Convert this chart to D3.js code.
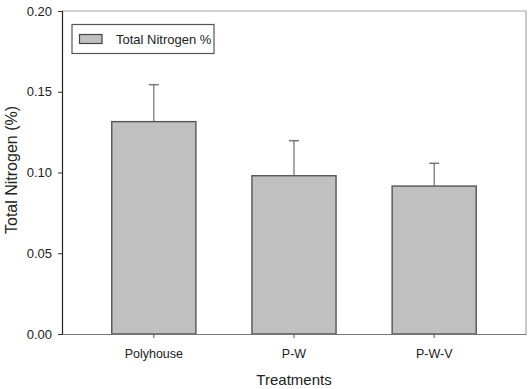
<!DOCTYPE html>
<html><head><meta charset="utf-8">
<script src="https://cdn.jsdelivr.net/npm/d3@7"></script>
<style>body{margin:0;background:#fff;} svg{display:block;} text{font-family:"Liberation Sans",Arial,sans-serif;fill:#222;}</style>
</head><body>
<svg id="chart" width="530" height="389"></svg>
<script>
const categories = ["Polyhouse", "P-W", "P-W-V"];
const values = [0.1315, 0.0980, 0.0916];
const errors = [0.0229, 0.0217, 0.0141];
const yTicks = [0.00, 0.05, 0.10, 0.15, 0.20];
const legendLabel = "Total Nitrogen %";

const svg = d3.select("#chart");
const L = 62, R = 526, T = 11, B = 334;

const x = d3.scaleBand().domain(categories).range([L, R]).paddingInner(0.4).paddingOuter(0.355);
const y = d3.scaleLinear().domain([0, 0.2]).range([B, T]);

// frame top/right
svg.append("path").attr("d", `M${L},${T}H${R}V${B}`).attr("fill","none").attr("stroke","#a8a8a8").attr("stroke-width",1.2);

// error bars
const g = svg.append("g");
categories.forEach((c,i)=>{
  const cx = x(c) + x.bandwidth()/2;
  g.append("line").attr("x1",cx).attr("x2",cx).attr("y1",y(values[i])).attr("y2",y(values[i]+errors[i]))
    .attr("stroke","#777").attr("stroke-width",1.3);
  g.append("line").attr("x1",cx-5).attr("x2",cx+5).attr("y1",y(values[i]+errors[i])).attr("y2",y(values[i]+errors[i]))
    .attr("stroke","#777").attr("stroke-width",1.5);
});
// bars
g.selectAll("rect").data(categories).enter().append("rect")
  .attr("x", d=>x(d)).attr("width", x.bandwidth())
  .attr("y", (d,i)=>y(values[i])).attr("height",(d,i)=>B - y(values[i]))
  .attr("fill","#c0c0c0").attr("stroke","#555").attr("stroke-width",1.4);

// y axis
const ya = svg.append("g").attr("transform",`translate(${L},0)`)
  .call(d3.axisLeft(y).tickValues(yTicks).tickFormat(d3.format(".2f")).tickSize(4).tickPadding(6));
ya.select(".domain").attr("stroke","#222").attr("stroke-width",1.2);
ya.selectAll(".tick line").attr("stroke","#333");
ya.selectAll("text").style("font-size","13px").attr("fill","#222");

// x axis
const xa = svg.append("g").attr("transform",`translate(0,${B})`)
  .call(d3.axisBottom(x).tickSize(4).tickPadding(11).tickSizeOuter(0));
xa.select(".domain").attr("stroke","#777").attr("stroke-width",1.2);
xa.selectAll(".tick line").attr("stroke","#555");
xa.selectAll("text").style("font-size","12.5px").attr("fill","#222");

// axis titles
svg.append("text").attr("x",(L+R)/2 - 0).attr("y",384.5).attr("text-anchor","middle").style("font-size","15px").text("Treatments");
svg.append("text").attr("transform","translate(16.5,170) rotate(-90)").attr("text-anchor","middle").style("font-size","16px").text("Total Nitrogen (%)");

// legend
const lg = svg.append("g");
lg.append("rect").attr("x",72).attr("y",24.5).attr("width",142).attr("height",29).attr("fill","#fff").attr("stroke","#555").attr("stroke-width",1.2);
lg.append("rect").attr("x",79.5).attr("y",34.5).attr("width",22.5).attr("height",9).attr("fill","#c0c0c0").attr("stroke","#444").attr("stroke-width",1.2);
lg.append("text").attr("x",116).attr("y",43.5).style("font-size","13px").text(legendLabel);
</script>
</body></html>
